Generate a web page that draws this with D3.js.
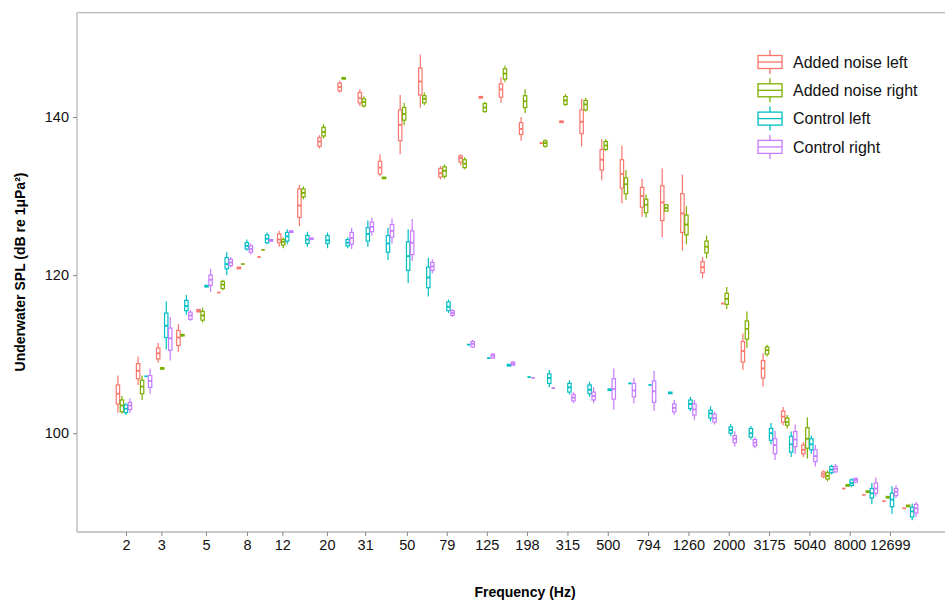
<!DOCTYPE html>
<html>
<head>
<meta charset="utf-8">
<script src="https://d3js.org/d3.v7.min.js"></script>
<style>
  body { margin: 0; background: #fff; }
  text { font-family: "Liberation Sans", Arial, Helvetica, sans-serif; }
</style>
</head>
<body>
<div class="spl"></div>
<script>
// band centre frequencies (Hz), 1/3 octave
const freqs = [1.953, 2.461, 3.1, 3.906, 4.922, 6.201, 7.813, 9.843, 12.4, 15.63,
  19.69, 24.8, 31.25, 39.37, 49.61, 62.5, 78.75, 99.21, 125, 157.5,
  198.4, 250, 315, 396.9, 500, 630, 793.7, 1000, 1260, 1587,
  2000, 2520, 3175, 4000, 5040, 6350, 8000, 10079, 12699, 16000];

const tickVals = [2, 3, 5, 8, 12, 20, 31, 50, 79, 125, 198, 315, 500, 794, 1260, 2000, 3175, 5040, 8000, 12699];

const seriesNames = ["Added noise left", "Added noise right", "Control left", "Control right"];

// each entry: [lower whisker, q1, median, q3, upper whisker]
const noiseLeft = [
  [102.6,103.7,105.0,106.1,107.3],[106.1,106.9,107.9,108.8,109.7],[108.9,109.4,110.1,110.8,111.4],[110.3,111.1,112.1,113.0,113.8],
  [115.3,115.35,115.5,115.65,115.7],[117.8,117.8,117.8,117.8,117.8],[120.8,120.8,120.9,121.0,121.0],[122.3,122.3,122.3,122.3,122.3],
  [123.6,124.1,124.5,125.2,125.6],[126.2,127.3,128.8,130.9,131.4],[136.0,136.3,136.9,137.4,137.7],[143.1,143.3,143.8,144.3,144.6],
  [141.4,141.8,142.4,143.1,143.5],[132.5,132.8,133.6,134.4,135.3],[135.3,137.0,139.0,140.9,142.8],[141.2,142.8,144.5,146.2,147.9],
  [132.1,132.4,132.9,133.5,133.8],[133.9,134.3,134.8,135.1,135.3],[142.4,142.4,142.5,142.6,142.6],[141.8,142.5,143.5,144.2,145.0],
  [137.0,137.8,138.5,139.3,140.0],[136.7,136.7,136.7,136.7,136.7],[139.3,139.3,139.4,139.5,139.5],[136.3,137.9,139.4,140.9,142.3],
  [132.0,133.3,134.6,135.9,137.2],[129.1,131.0,132.8,134.6,136.4],[127.4,128.6,130.0,131.1,132.2],[124.8,126.9,129.2,131.3,133.5],
  [123.1,125.4,127.8,130.3,132.7],[119.6,120.3,121.0,121.7,122.3],[116.4,116.4,116.4,116.4,116.4],[108.0,109.0,110.4,111.6,112.6],
  [105.9,107.0,108.2,109.2,110.1],[101.0,101.4,102.1,102.8,103.3],[97.0,97.4,97.9,98.5,98.9],[94.3,94.5,94.8,95.1,95.3],
  [93.0,93.0,93.0,93.0,93.0],[92.2,92.2,92.2,92.2,92.2],[91.4,91.4,91.4,91.4,91.4],[90.5,90.5,90.5,90.5,90.5]
];

const noiseRight = [
  [102.5,102.7,103.5,104.2,104.7],[104.2,105.0,105.9,106.7,107.3],[108.1,108.1,108.2,108.3,108.3],[112.3,112.3,112.4,112.5,112.5],
  [114.0,114.3,114.9,115.4,115.9],[118.1,118.3,118.8,119.2,119.4],[121.4,121.4,121.4,121.4,121.4],[123.2,123.2,123.2,123.2,123.2],
  [123.4,123.8,124.2,124.5,124.8],[129.6,129.9,130.4,130.9,131.2],[137.3,137.6,138.1,138.7,139.1],[144.8,144.8,144.9,145.0,145.0],
  [141.2,141.4,141.9,142.3,142.6],[132.2,132.2,132.3,132.4,132.4],[139.0,139.6,140.4,141.2,141.8],[141.5,141.8,142.3,142.7,143.1],
  [132.2,132.5,133.2,133.7,134.0],[133.4,133.6,134.1,134.6,134.9],[140.5,140.7,141.2,141.7,141.9],[144.4,144.8,145.5,146.1,146.5],
  [140.5,141.2,142.0,142.7,143.5],[136.1,136.3,136.7,137.0,137.2],[141.4,141.6,142.1,142.6,142.9],[140.7,140.9,141.6,142.1,142.4],
  [135.7,135.9,136.4,136.9,137.2],[129.5,130.3,131.5,132.3,133.3],[127.3,127.9,128.9,129.6,130.2],[128.1,128.1,128.5,128.9,128.9],
  [123.9,125.1,126.4,127.6,128.7],[122.1,122.8,123.6,124.3,125.0],[115.7,116.3,117.0,117.7,118.5],[110.8,111.9,113.2,114.2,115.4],
  [109.7,110.0,110.5,110.9,111.2],[100.6,101.0,101.4,101.9,102.3],[96.8,98.1,99.3,100.7,102.0],[93.9,94.2,94.6,95.0,95.3],
  [93.3,93.3,93.4,93.5,93.5],[92.5,92.5,92.6,92.7,92.7],[91.8,91.8,91.9,92.0,92.0],[90.7,90.7,90.8,90.9,90.9]
];

const controlLeft = [
  [102.3,102.6,103.1,103.6,103.8],[107.2,107.2,107.2,107.2,107.2],[110.6,112.1,113.6,115.2,116.7],[115.0,115.5,116.1,116.8,117.5],
  [118.5,118.5,118.6,118.7,118.7],[120.0,120.8,121.4,122.2,122.9],[123.1,123.3,123.7,124.1,124.5],[123.9,124.1,124.6,125.1,125.4],
  [123.9,124.3,124.9,125.4,125.8],[123.6,124.0,124.5,125.0,125.5],[123.4,124.0,124.4,125.0,125.4],[123.4,123.7,124.1,124.5,124.8],
  [123.6,124.3,125.2,126.0,126.9],[121.9,122.9,124.0,125.0,126.0],[119.0,120.6,122.4,124.2,125.8],[117.3,118.4,119.7,121.0,122.2],
  [115.2,115.5,116.0,116.6,116.9],[111.2,111.2,111.2,111.2,111.2],[109.5,109.5,109.5,109.5,109.5],[108.5,108.5,108.6,108.7,108.7],
  [107.1,107.1,107.1,107.1,107.1],[105.8,106.3,107.0,107.5,108.0],[104.9,105.2,105.8,106.3,106.7],[104.6,105.0,105.5,106.1,106.5],
  [105.4,105.4,105.5,105.6,105.6],[106.3,106.3,106.3,106.3,106.3],[106.1,106.1,106.1,106.1,106.1],[105.0,105.0,105.1,105.2,105.2],
  [102.8,103.1,103.7,104.2,104.6],[101.5,101.9,102.5,102.9,103.4],[99.6,100.0,100.4,100.8,101.2],[99.2,99.5,100.0,100.6,100.9],
  [98.6,99.1,100.0,100.6,101.3],[97.0,97.6,98.6,99.6,100.2],[97.4,97.9,98.6,99.3,99.7],[94.8,95.0,95.4,95.8,96.0],
  [93.2,93.4,93.7,94.1,94.3],[91.0,91.8,92.4,93.0,93.7],[89.8,90.7,91.6,92.4,93.3],[89.0,89.4,90.1,90.6,91.1]
];

const controlRight = [
  [102.6,103.0,103.5,103.9,104.4],[105.0,105.8,106.6,107.3,108.2],[109.2,110.5,112.0,113.3,114.7],[114.2,114.4,114.9,115.3,115.6],
  [117.9,118.7,119.4,120.0,120.8],[121.0,121.2,121.6,122.0,122.3],[122.6,122.9,123.3,123.7,124.0],[124.3,124.3,124.4,124.5,124.5],
  [125.4,125.4,125.5,125.6,125.6],[124.5,124.5,124.6,124.7,124.7],null,[123.3,123.9,124.7,125.4,126.0],
  [125.0,125.5,126.1,126.7,127.3],[124.0,124.8,125.6,126.4,127.2],[121.8,122.6,124.1,125.6,127.1],[120.2,120.6,121.1,121.6,122.0],
  [114.7,114.9,115.2,115.5,115.7],[110.8,110.9,111.3,111.6,111.8],[109.4,109.5,109.8,110.0,110.1],[108.6,108.6,108.8,109.0,109.1],
  [107.0,107.0,107.0,107.0,107.0],[105.7,105.7,105.7,105.7,105.7],[103.8,104.1,104.5,104.9,105.2],[103.8,104.2,104.7,105.2,105.8],
  [103.0,104.3,105.6,106.9,108.2],[103.8,104.6,105.4,106.3,107.0],[102.8,103.9,105.3,106.6,107.9],[102.3,102.7,103.2,103.7,104.2],
  [101.7,102.3,103.0,103.7,104.2],[101.1,101.4,101.9,102.4,102.7],[98.3,98.8,99.3,99.7,100.2],[98.1,98.4,98.8,99.2,99.5],
  [96.6,97.4,98.5,99.3,100.3],[97.4,98.3,99.2,100.2,101.1],[95.8,96.4,97.1,97.9,98.5],[95.0,95.1,95.5,95.8,96.1],
  [93.8,93.8,94.1,94.3,94.3],[92.0,92.4,93.0,93.7,94.4],[91.8,92.1,92.6,93.0,93.4],[89.4,89.9,90.5,91.0,91.3]
];

const allSeries = [noiseLeft, noiseRight, controlLeft, controlRight];
const colors = ["#F8766D", "#7CAE00", "#00BFC4", "#C77CFF"];
const dodge = [-6, -2, 2, 6];   // px offset of each series inside a band
const boxW = 3.4;

const Width = 945, Height = 603;
const Panel = { left: 77, top: 12.7, right: 945, bottom: 532 };

const svg = d3.select(".spl").append("svg")
  .attr("width", Width)
  .attr("height", Height);

// scales
const x = d3.scaleLog().domain([2, 12699]).range([126, 890]);
const y = d3.scaleLinear().domain([87.5, 153.2]).range([Panel.bottom, Panel.top]);

// panel lines (top, left, bottom)
const lineCol = "#b8b8b8";
svg.append("line").attr("x1", Panel.left).attr("x2", Panel.right)
  .attr("y1", Panel.top).attr("y2", Panel.top).attr("stroke", lineCol).attr("stroke-width", 1.3);
svg.append("line").attr("x1", Panel.left).attr("x2", Panel.left)
  .attr("y1", Panel.top).attr("y2", Panel.bottom).attr("stroke", lineCol).attr("stroke-width", 1.3);
svg.append("line").attr("x1", Panel.left).attr("x2", Panel.right)
  .attr("y1", Panel.bottom).attr("y2", Panel.bottom).attr("stroke", lineCol).attr("stroke-width", 1.3);

// X axis
const xAxis = svg.append("g")
  .attr("transform", "translate(0," + Panel.bottom + ")")
  .call(d3.axisBottom(x).tickValues(tickVals).tickFormat(d => d).tickSize(4).tickPadding(4));
xAxis.select(".domain").remove();
xAxis.selectAll(".tick line").attr("stroke", "#888");
xAxis.selectAll(".tick text")
  .style("font-size", "14.5px")
  .attr("fill", "#111");

// Y axis
const yAxis = svg.append("g")
  .attr("transform", "translate(" + Panel.left + ",0)")
  .call(d3.axisLeft(y).tickValues([100, 120, 140]).tickSize(4).tickPadding(4));
yAxis.select(".domain").remove();
yAxis.selectAll(".tick line").attr("stroke", "#888");
yAxis.selectAll(".tick text")
  .style("font-size", "14.5px")
  .attr("fill", "#111");

// axis titles
svg.append("text")
  .attr("x", 525).attr("y", 597)
  .attr("text-anchor", "middle")
  .style("font-size", "14px").style("font-weight", "bold")
  .text("Frequency (Hz)");

svg.append("text")
  .attr("transform", "translate(25," + 272 + ") rotate(-90)")
  .attr("text-anchor", "middle")
  .style("font-size", "14px").style("font-weight", "bold")
  .text("Underwater SPL (dB re 1μPa²)");

// flatten boxes
const boxes = [];
allSeries.forEach((arr, s) => {
  arr.forEach((b, i) => {
    if (b) boxes.push({ s: s, f: freqs[i], lo: b[0], q1: b[1], med: b[2], q3: b[3], hi: b[4] });
  });
});

const g = svg.append("g");
const bx = g.selectAll("g.box").data(boxes).enter().append("g")
  .attr("class", "box")
  .attr("transform", d => "translate(" + (x(d.f) + dodge[d.s]) + ",0)");

bx.append("line")
  .attr("x1", 0).attr("x2", 0)
  .attr("y1", d => y(d.hi)).attr("y2", d => y(d.q3))
  .attr("stroke", d => colors[d.s]).attr("stroke-width", 1.2);
bx.append("line")
  .attr("x1", 0).attr("x2", 0)
  .attr("y1", d => y(d.q1)).attr("y2", d => y(d.lo))
  .attr("stroke", d => colors[d.s]).attr("stroke-width", 1.2);
bx.append("rect")
  .attr("x", -boxW / 2).attr("width", boxW)
  .attr("y", d => y(d.q3))
  .attr("height", d => Math.max(0, y(d.q1) - y(d.q3)))
  .attr("fill", "#fff")
  .attr("stroke", d => colors[d.s]).attr("stroke-width", 1.2);
bx.append("line")
  .attr("x1", -boxW / 2).attr("x2", boxW / 2)
  .attr("y1", d => y(d.med)).attr("y2", d => y(d.med))
  .attr("stroke", d => colors[d.s]).attr("stroke-width", 1.8);

// legend
const legend = svg.append("g").attr("transform", "translate(758,62)");
seriesNames.forEach((name, i) => {
  const row = legend.append("g").attr("transform", "translate(0," + (i * 28.3) + ")");
  row.append("line").attr("x1", 12).attr("x2", 12).attr("y1", -12).attr("y2", 12)
    .attr("stroke", colors[i]).attr("stroke-width", 1.3);
  row.append("rect").attr("x", 0).attr("y", -6.5).attr("width", 24).attr("height", 13)
    .attr("fill", "#fff").attr("stroke", colors[i]).attr("stroke-width", 1.3);
  row.append("line").attr("x1", 0).attr("x2", 24).attr("y1", 0).attr("y2", 0)
    .attr("stroke", colors[i]).attr("stroke-width", 1.3);
  row.append("text").attr("x", 35).attr("y", 0).attr("dy", "0.35em")
    .style("font-size", "16px").attr("fill", "#111")
    .text(name);
});
</script>
</body>
</html>
